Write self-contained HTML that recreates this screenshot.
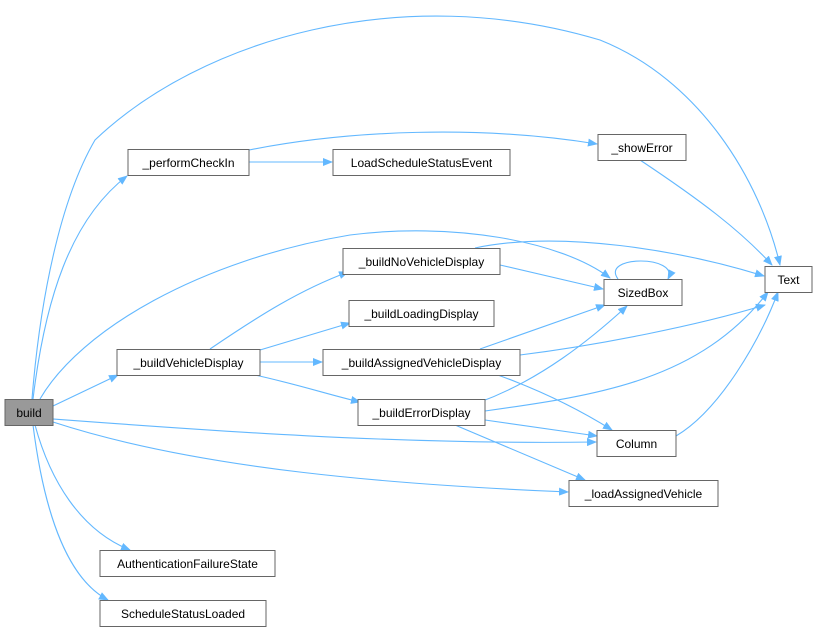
<!DOCTYPE html>
<html><head><style>
html,body{margin:0;padding:0;background:#fff}
svg{display:block}
text{font-family:"Liberation Sans",Arial,sans-serif;font-size:12px;fill:#000}
.n{fill:#fff;stroke:#666;stroke-width:1}
.e{fill:none;stroke:#63b8ff;stroke-width:1.1}
</style></head><body>
<svg width="817" height="631" viewBox="0 0 817 631" xmlns="http://www.w3.org/2000/svg">
<defs><marker id="a" markerWidth="10" markerHeight="8" refX="9" refY="4" orient="auto" markerUnits="userSpaceOnUse"><path d="M0,0 L10,4 L0,8 z" fill="#63b8ff"/></marker></defs>
<g class="e" marker-end="url(#a)">
<path d="M32,399 C40,300 60,200 95,140 C200,40 400,-20 600,40 C700,80 760,180 780,265"/>
<path d="M33,399 C45,300 70,220 127,176"/>
<path d="M40,399 C80,330 200,260 350,235 C450,222 560,240 610,278"/>
<path d="M53,406 L118,375"/>
<path d="M53,419 C200,430 400,445 596,442"/>
<path d="M53,422 C200,470 400,485 568,492"/>
<path d="M35,425 C50,480 80,530 130,550"/>
<path d="M33,425 C45,520 70,580 108,600"/>
<path d="M249,162 L332,162"/>
<path d="M249,150 C350,130 480,125 597,144"/>
<path d="M640,160 C700,200 740,230 772,265"/>
<path d="M210,349 C260,315 300,290 348,272"/>
<path d="M260,350 L350,323"/>
<path d="M260,362 L322,362"/>
<path d="M255,375 C300,385 330,395 360,402"/>
<path d="M500,265 L603,289"/>
<path d="M475,248 C560,230 680,250 764,276"/>
<path d="M480,349 L605,305"/>
<path d="M520,355 C600,345 700,325 765,305"/>
<path d="M495,374 C540,390 580,410 612,430"/>
<path d="M485,411 C600,395 700,380 768,292"/>
<path d="M480,402 C540,380 590,340 627,306"/>
<path d="M485,420 L597,436"/>
<path d="M455,425 L585,480"/>
<path d="M676,436 C720,410 760,340 778,292"/>
<path d="M618,279 C600,255 680,255 668,279"/>
</g>
<rect x="5" y="399.5" width="48" height="26" fill="#999" stroke="#666"/><text x="29" y="417" text-anchor="middle">build</text>
<rect class="n" x="128" y="149.5" width="121" height="26"/><text x="188.5" y="167" text-anchor="middle">_performCheckIn</text>
<rect class="n" x="333" y="149.5" width="177" height="26"/><text x="421.5" y="167" text-anchor="middle">LoadScheduleStatusEvent</text>
<rect class="n" x="598" y="134.5" width="88" height="26"/><text x="642" y="152" text-anchor="middle">_showError</text>
<rect class="n" x="765" y="266.5" width="47" height="26"/><text x="788.5" y="284" text-anchor="middle">Text</text>
<rect class="n" x="343" y="248.5" width="157" height="26"/><text x="421.5" y="266" text-anchor="middle">_buildNoVehicleDisplay</text>
<rect class="n" x="604" y="279.5" width="78" height="26"/><text x="643" y="297" text-anchor="middle">SizedBox</text>
<rect class="n" x="349" y="300.5" width="145" height="26"/><text x="421.5" y="318" text-anchor="middle">_buildLoadingDisplay</text>
<rect class="n" x="117" y="349.5" width="143" height="26"/><text x="188.5" y="367" text-anchor="middle">_buildVehicleDisplay</text>
<rect class="n" x="323" y="349.5" width="197" height="26"/><text x="421.5" y="367" text-anchor="middle">_buildAssignedVehicleDisplay</text>
<rect class="n" x="358" y="399.5" width="127" height="26"/><text x="421.5" y="417" text-anchor="middle">_buildErrorDisplay</text>
<rect class="n" x="597" y="430.5" width="79" height="26"/><text x="636.5" y="448" text-anchor="middle">Column</text>
<rect class="n" x="569" y="480.5" width="149" height="26"/><text x="643.5" y="498" text-anchor="middle">_loadAssignedVehicle</text>
<rect class="n" x="100" y="550.5" width="175" height="26"/><text x="187.5" y="568" text-anchor="middle">AuthenticationFailureState</text>
<rect class="n" x="100" y="600.5" width="166" height="26"/><text x="183" y="618" text-anchor="middle">ScheduleStatusLoaded</text>
</svg>
</body></html>
